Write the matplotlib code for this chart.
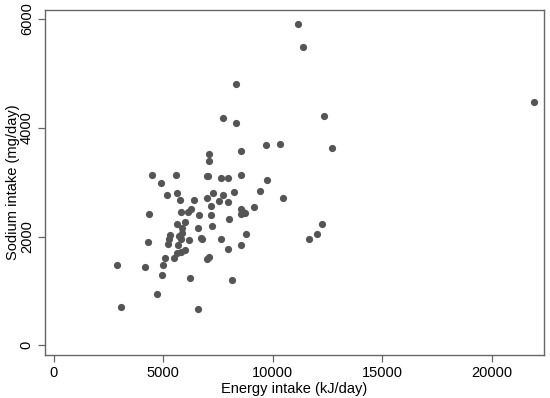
import matplotlib
matplotlib.use("Agg")
import matplotlib.pyplot as plt

# Energy vs sodium intake
energy = [11130, 11380, 8310, 21930, 7720, 8340, 12360, 9690, 10330, 12710,
          8570, 7090, 7110, 4500, 5600, 7010, 7060, 8550, 7640, 7970,
          9720, 4920, 5170, 5640, 7250, 7720, 8250, 9430, 5760, 6410,
          7010, 7540, 7940, 10470, 7190, 9140, 5810, 6280, 6150, 4340,
          6650, 7170, 8550, 8530, 8630, 8730, 5990, 5620, 7990, 7220,
          6580, 5840, 5860, 6710, 6760, 7620, 5720, 5810, 6170, 5330,
          5250, 5200, 5680, 4290, 8760, 8570, 7940, 5990, 5830, 5650,
          5090, 5510, 7110, 7010, 2910, 4180, 4980, 4930, 6210, 8120,
          4710, 3090, 6600, 11640, 12020, 12250]
sodium = [5900, 5490, 4800, 4480, 4170, 4080, 4220, 3680, 3700, 3620,
          3580, 3520, 3390, 3140, 3130, 3110, 3120, 3130, 3070, 3080,
          3040, 2980, 2770, 2800, 2800, 2760, 2810, 2840, 2670, 2670,
          2700, 2660, 2640, 2710, 2570, 2550, 2460, 2510, 2450, 2410,
          2400, 2400, 2510, 2420, 2450, 2430, 2270, 2230, 2320, 2190,
          2160, 2150, 2070, 1970, 1960, 1960, 2010, 1960, 1940, 2030,
          1960, 1860, 1840, 1900, 2050, 1850, 1770, 1760, 1720, 1700,
          1610, 1600, 1620, 1590, 1470, 1440, 1470, 1290, 1240, 1200,
          940, 700, 660, 1950, 2050, 2230]

x_ticks = [0, 5000, 10000, 15000, 20000]
y_ticks = [0, 2000, 4000, 6000]

plt.rcParams['font.family'] = ['Liberation Sans', 'DejaVu Sans']

fig = plt.figure(figsize=(5.5, 3.98), dpi=100)
ax = fig.add_axes([0.0816, 0.108, 0.907, 0.867])

ax.scatter(energy, sodium, s=27, color='#555555', linewidths=0, zorder=3)

ax.set_xlim(-402, 22370)
ax.set_ylim(-178, 6165)
ax.set_xticks(x_ticks)
ax.set_yticks(y_ticks)
ax.set_yticklabels([str(v) for v in y_ticks], rotation=90, va='center')

for side in ['left', 'right', 'top', 'bottom']:
    ax.spines[side].set_color('#666666')
    ax.spines[side].set_linewidth(1.0)

ax.tick_params(direction='out', length=5, width=0.9, color='#666666',
               labelsize=10.5, labelcolor='black', pad=3)

ax.set_xlabel('Energy intake (kJ/day)', fontsize=10.5, labelpad=1)
ax.set_ylabel('Sodium intake (mg/day)', fontsize=10.5, labelpad=0)

fig.savefig('out.png', dpi=100)
